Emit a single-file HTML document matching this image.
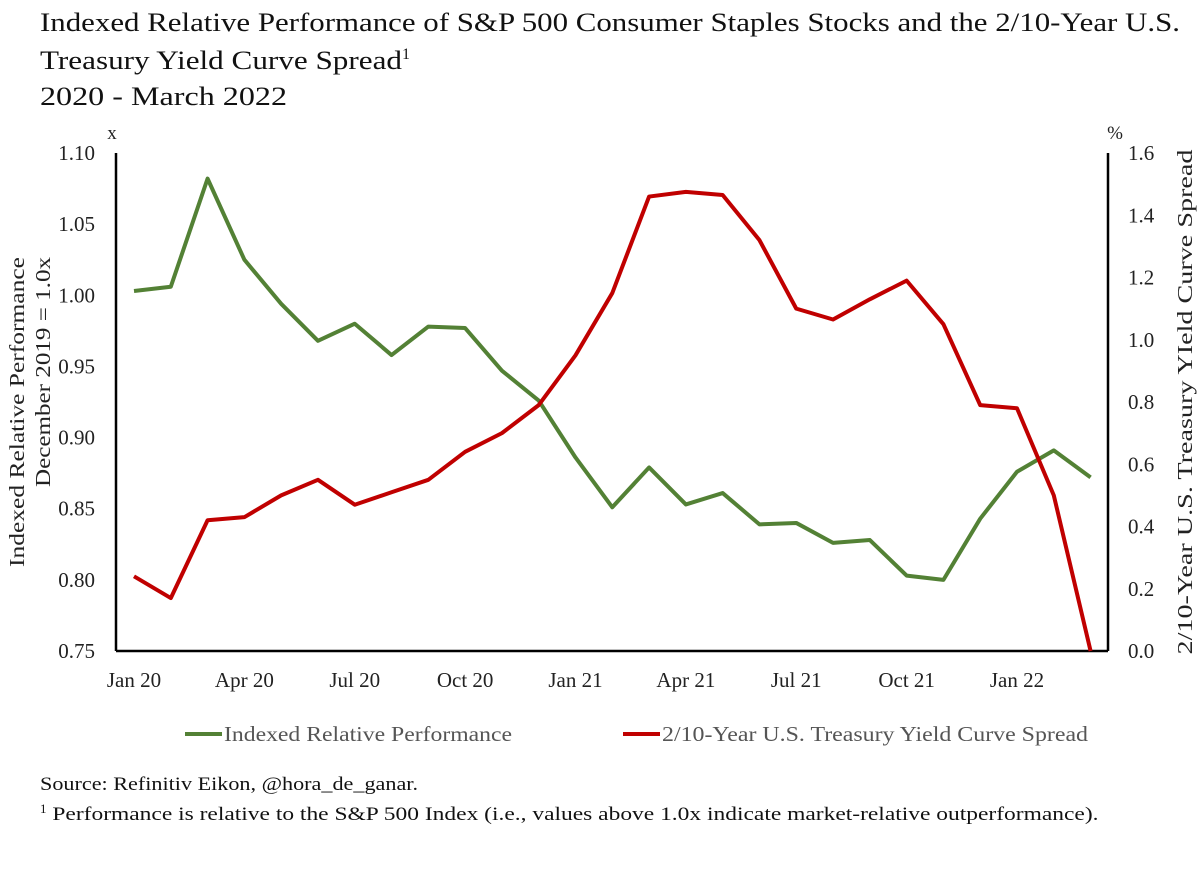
<!DOCTYPE html>
<html><head><meta charset="utf-8"><style>
body{margin:0;background:#fff;}
svg{display:block;font-family:"Liberation Serif",serif;}
</style></head><body>
<svg width="1200" height="871" viewBox="0 0 1200 871">
<text x="40" y="31" font-size="26" fill="#111" textLength="1140" lengthAdjust="spacingAndGlyphs">Indexed Relative Performance of S&amp;P 500 Consumer Staples Stocks and the 2/10-Year U.S.</text>
<text x="40" y="69" font-size="26" fill="#111"><tspan textLength="362" lengthAdjust="spacingAndGlyphs">Treasury Yield Curve Spread</tspan><tspan font-size="16" dy="-10">1</tspan></text>
<text x="40" y="105" font-size="26" fill="#111" textLength="247" lengthAdjust="spacingAndGlyphs">2020 - March 2022</text>
<g id="axes"></g>
<g id="series"></g>
<g>
<line x1="185" y1="734" x2="222" y2="734" stroke="#538135" stroke-width="4"/>
<text x="224" y="741" font-size="21" fill="#555" textLength="288" lengthAdjust="spacingAndGlyphs">Indexed Relative Performance</text>
<line x1="623" y1="734" x2="660" y2="734" stroke="#c00000" stroke-width="4"/>
<text x="662" y="741" font-size="21" fill="#555" textLength="426" lengthAdjust="spacingAndGlyphs">2/10-Year U.S. Treasury Yield Curve Spread</text>
</g>
<text x="40" y="790" font-size="19" fill="#111" textLength="378" lengthAdjust="spacingAndGlyphs">Source: Refinitiv Eikon, @hora_de_ganar.</text>
<text x="40" y="820" font-size="19" fill="#111"><tspan font-size="13" dy="-7">1</tspan><tspan dy="7" textLength="1052" lengthAdjust="spacingAndGlyphs"> Performance is relative to the S&amp;P 500 Index (i.e., values above 1.0x indicate market-relative outperformance).</tspan></text>
</svg>
<script>
const months = 27;
const xTickLabels = ["Jan 20","Apr 20","Jul 20","Oct 20","Jan 21","Apr 21","Jul 21","Oct 21","Jan 22"];
const leftTicks = [0.75,0.80,0.85,0.90,0.95,1.00,1.05,1.10];
const rightTicks = [0.0,0.2,0.4,0.6,0.8,1.0,1.2,1.4,1.6];
const performance = [1.003,1.006,1.082,1.025,0.994,0.968,0.980,0.958,0.978,0.977,0.947,0.926,0.886,0.851,0.879,0.853,0.861,0.839,0.840,0.826,0.828,0.803,0.800,0.843,0.876,0.891,0.872];
const spread = [0.24,0.17,0.42,0.43,0.50,0.55,0.47,0.51,0.55,0.64,0.70,0.79,0.95,1.15,1.46,1.475,1.465,1.32,1.10,1.065,1.13,1.19,1.05,0.79,0.78,0.50,0.0];

const L=116,R=1108,T=153,B=651;
const x=i=>134+i*(1017-134)/24;
const yl=v=>B-(v-0.75)/(1.10-0.75)*(B-T);
const yr=v=>B-v/1.6*(B-T);
const NS="http://www.w3.org/2000/svg";
function mk(tag,attrs,parent,txt){const e=document.createElementNS(NS,tag);for(const k in attrs)e.setAttribute(k,attrs[k]);if(txt!==undefined)e.textContent=txt;parent.appendChild(e);return e;}
const ax=document.getElementById('axes');
let e;
e=mk('line',{x1:L,y1:T,x2:L,y2:B,stroke:'#000','stroke-width':2.5},ax);


e=mk('line',{x1:R,y1:T,x2:R,y2:B,stroke:'#000','stroke-width':2.5},ax);


e=mk('line',{x1:L,y1:B,x2:R,y2:B,stroke:'#000','stroke-width':2.5},ax);


leftTicks.forEach(v=>{
 e=mk('text',{x:95,y:yl(v)+7,'font-size':21,'text-anchor':'end',fill:'#222'},ax,v.toFixed(2));
 
 
});
rightTicks.forEach(v=>{
 e=mk('text',{x:1128,y:yr(v)+7,'font-size':21,fill:'#222'},ax,v.toFixed(1));
 
 
});
xTickLabels.forEach((s,k)=>{
 e=mk('text',{x:x(k*3),y:687,'font-size':21,'text-anchor':'middle',fill:'#222'},ax,s);
 
 
});
e=mk('text',{x:112,y:139,'font-size':19,'text-anchor':'middle',fill:'#222'},ax,'x');


e=mk('text',{x:1115,y:139,'font-size':19,'text-anchor':'middle',fill:'#222'},ax,'%');


e=mk('text',{transform:'translate(24,412) rotate(-90)','font-size':21,'text-anchor':'middle',fill:'#222',textLength:310,lengthAdjust:'spacingAndGlyphs'},ax,'Indexed Relative Performance');


e=mk('text',{transform:'translate(50,372) rotate(-90)','font-size':21,'text-anchor':'middle',fill:'#222',textLength:230,lengthAdjust:'spacingAndGlyphs'},ax,'December 2019 = 1.0x');


e=mk('text',{transform:'translate(1192,402) rotate(-90)','font-size':21,'text-anchor':'middle',fill:'#222',textLength:505,lengthAdjust:'spacingAndGlyphs'},ax,'2/10-Year U.S. Treasury YIeld Curve Spread');


const sg=document.getElementById('series');
e=mk('polyline',{points:performance.map((v,i)=>x(i)+','+yl(v)).join(' '),fill:'none',stroke:'#538135','stroke-width':4,'stroke-linejoin':'round'},sg);


e=mk('polyline',{points:spread.map((v,i)=>x(i)+','+yr(v)).join(' '),fill:'none',stroke:'#c00000','stroke-width':4,'stroke-linejoin':'round'},sg);


</script>
</body></html>
